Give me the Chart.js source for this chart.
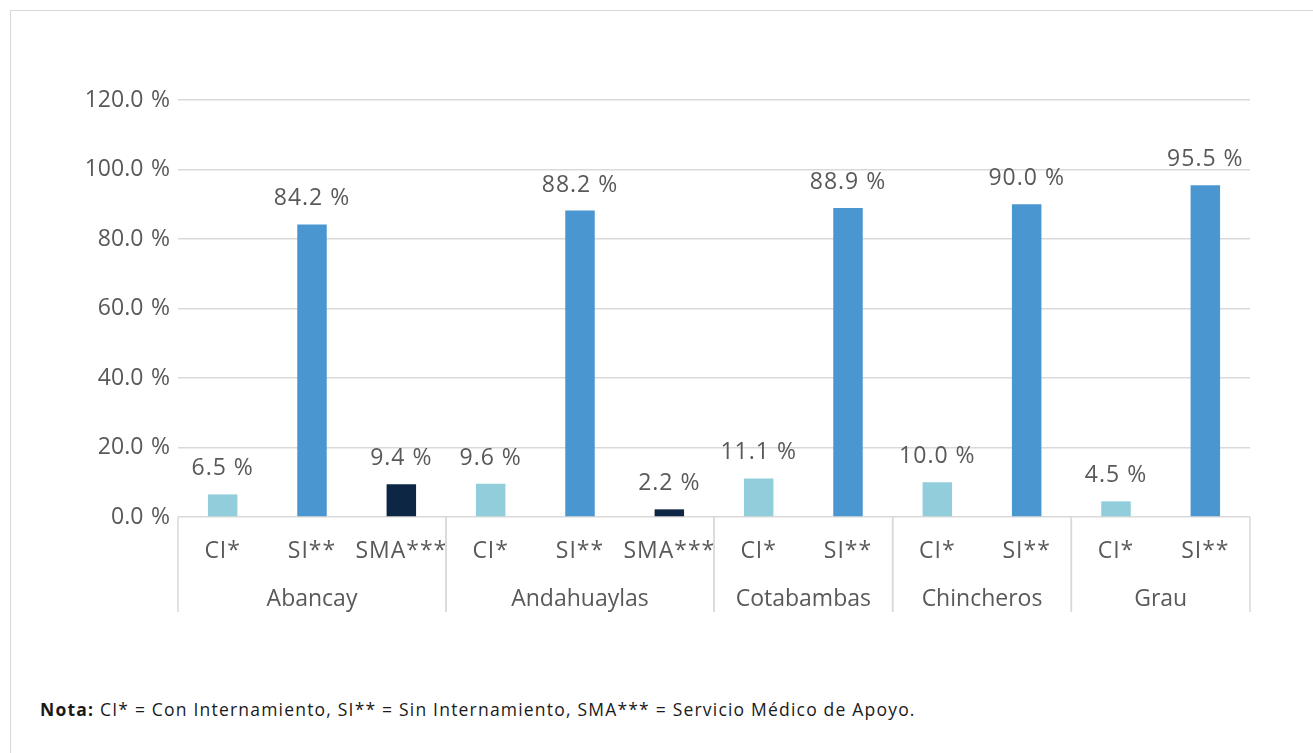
<!DOCTYPE html>
<html>
<head>
<meta charset="utf-8">
<script src="https://cdn.jsdelivr.net/npm/chart.js@4"></script>
<style>
  body { margin: 0; background: #fff; font-family: "Open Sans", sans-serif; }
  #frame { position: absolute; left: 10px; top: 10px; width: 1400px; height: 800px; border: 1.5px solid #d9d9d9; }
  #wrap { position: absolute; left: 0; top: 0; width: 1313px; height: 680px; }
  #nota { position: absolute; left: 40px; top: 697px; font-size: 17.5px; letter-spacing: 1.2px; color: #1a1a1a; white-space: nowrap; }
</style>
</head>
<body>
<div id="frame"></div>
<div id="wrap"><canvas id="chart"></canvas></div>
<div id="nota"><b>Nota:</b> CI* = Con Internamiento, SI** = Sin Internamiento, SMA*** = Servicio Médico de Apoyo.</div>
<script>
const provincias = ['Abancay', 'Abancay', 'Abancay', 'Andahuaylas', 'Andahuaylas', 'Andahuaylas',
  'Cotabambas', 'Cotabambas', 'Chincheros', 'Chincheros', 'Grau', 'Grau'];
const tipos = ['CI*', 'SI**', 'SMA***', 'CI*', 'SI**', 'SMA***', 'CI*', 'SI**', 'CI*', 'SI**', 'CI*', 'SI**'];
const porcentajes = [6.5, 84.2, 9.4, 9.6, 88.2, 2.2, 11.1, 88.9, 10.0, 90.0, 4.5, 95.5];
const yTicks = [0, 20, 40, 60, 80, 100, 120];

const colores = { 'CI*': '#92cddc', 'SI**': '#4a96d0', 'SMA***': '#0c2643' };
const gris = '#595959';
const linea = '#d9d9d9';
const fuente = '"Open Sans", sans-serif';

// etiquetas de valor y eje x de dos niveles
const extras = {
  id: 'extras',
  afterDatasetsDraw(chart) {
    const ctx = chart.ctx;
    const meta = chart.getDatasetMeta(0);
    ctx.save();
    ctx.font = '23px ' + fuente;
    ctx.fillStyle = gris;
    ctx.textAlign = 'center';
    ctx.textBaseline = 'alphabetic';
    ctx.letterSpacing = '1px';
    meta.data.forEach((bar, i) => {
      ctx.fillText(porcentajes[i].toFixed(1) + ' %', bar.x, bar.y - 19);
    });
    ctx.restore();
  },
  afterDraw(chart) {
    const ctx = chart.ctx;
    const x = chart.scales.x;
    const bottom = chart.chartArea.bottom;
    const half = (x.getPixelForValue(1) - x.getPixelForValue(0)) / 2;
    ctx.save();
    ctx.font = '23px ' + fuente;
    ctx.fillStyle = gris;
    ctx.textAlign = 'center';
    ctx.textBaseline = 'middle';
    ctx.letterSpacing = '1px';
    tipos.forEach((t, i) => ctx.fillText(t, x.getPixelForValue(i), bottom + 34));
    ctx.letterSpacing = '0px';
    // grupos
    ctx.strokeStyle = linea;
    ctx.lineWidth = 1.5;
    let start = 0;
    for (let i = 1; i <= provincias.length; i++) {
      if (i === provincias.length || provincias[i] !== provincias[start]) {
        const x0 = x.getPixelForValue(start) - half;
        const x1 = x.getPixelForValue(i - 1) + half;
        ctx.fillText(provincias[start], (x0 + x1) / 2, bottom + 82);
        [x0, x1].forEach(px => {
          ctx.beginPath();
          ctx.moveTo(px, bottom);
          ctx.lineTo(px, bottom + 95);
          ctx.stroke();
        });
        start = i;
      }
    }
    ctx.restore();
  }
};

new Chart(document.getElementById('chart'), {
  type: 'bar',
  data: {
    labels: tipos,
    datasets: [{
      data: porcentajes,
      backgroundColor: tipos.map(t => colores[t]),
      barPercentage: 1,
      categoryPercentage: 0.33
    }]
  },
  options: {
    responsive: true,
    maintainAspectRatio: false,
    animation: false,
    layout: { padding: { top: 100, right: 63, left: 0, bottom: 0 } },
    plugins: { legend: { display: false }, tooltip: { enabled: false } },
    scales: {
      x: {
        ticks: { display: false },
        grid: { display: false },
        border: { display: false },
        afterFit: s => { s.height = 163; }
      },
      y: {
        min: 0,
        max: 120,
        afterBuildTicks: s => { s.ticks = yTicks.map(v => ({ value: v })); },
        ticks: {
          padding: 8,
          color: gris,
          font: { family: fuente, size: 23 },
          callback: v => v.toFixed(1) + '\u2004%'
        },
        grid: { color: linea, lineWidth: 1.5, drawTicks: false },
        border: { display: false },
        afterFit: s => { s.width = 178; }
      }
    }
  },
  plugins: [extras]
});
</script>
</body>
</html>
